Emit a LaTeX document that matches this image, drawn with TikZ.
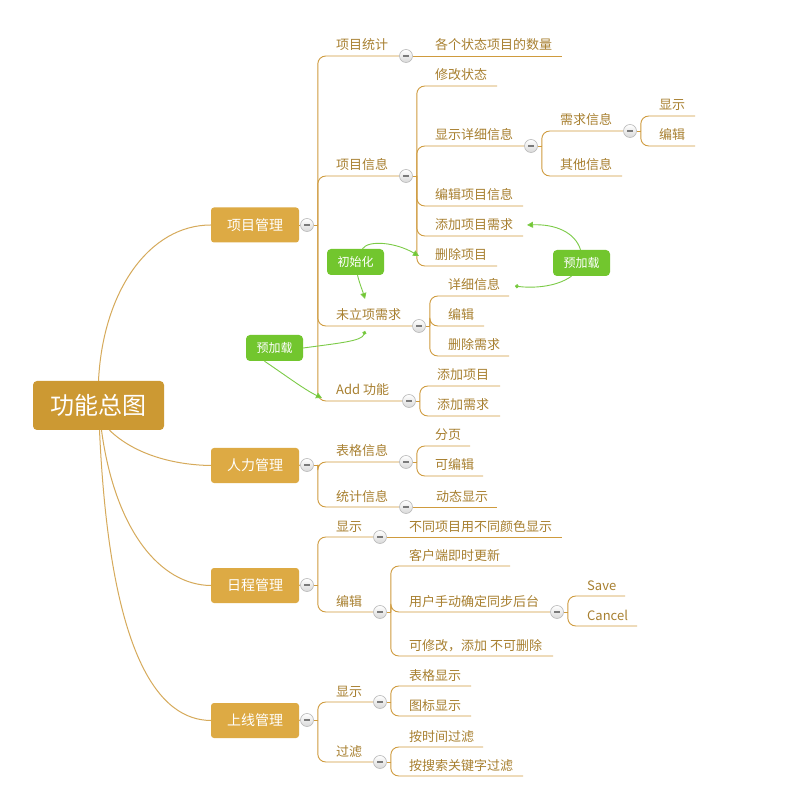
\documentclass[tikz,border=0pt]{standalone}
\usepackage{fontspec}
\newfontfamily\cjk{Noto Sans CJK SC}
\usetikzlibrary{arrows.meta,calc}
\pgfdeclarelayer{back}
\pgfdeclarelayer{bg}
\pgfsetlayers{back,bg,main}
\definecolor{rootfill}{HTML}{CC9933}
\definecolor{topicfill}{HTML}{DDAA44}
\definecolor{brclr}{HTML}{CF9B3E}
\definecolor{txtclr}{HTML}{A88030}
\definecolor{gfill}{HTML}{72C62E}
\definecolor{gline}{HTML}{7CCB47}
\definecolor{minusclr}{HTML}{7A7A7A}
\newcommand\mmstub[1]{\draw[br] (#1.east) -- ++(4,0);}
\newcommand\mmkid[3]{\draw[br,rounded corners=8pt] (#1.east) ++(#2,0) |- (#3);}
\tikzset{
  rootbox/.style={fill=rootfill, rounded corners=4pt, minimum width=131pt, minimum height=49pt, text=white, font=\cjk\fontsize{24}{24}\selectfont, inner sep=0pt},
  topicbox/.style={fill=topicfill, rounded corners=3pt, minimum width=88pt, minimum height=35pt, text=white, font=\cjk\fontsize{14}{14}\selectfont, inner sep=0pt},
  gbox/.style={fill=gfill, rounded corners=4pt, minimum width=57pt, minimum height=26pt, text=white, font=\cjk\fontsize{12}{12}\selectfont, inner sep=0pt},
  lbl/.style={anchor=base west, inner sep=0pt, text=txtclr, font=\cjk\fontsize{13}{13}\selectfont},
  col/.style={circle, minimum size=13pt, inner sep=0pt, draw=gray!55, line width=0.6pt, top color=white, bottom color=gray!30,
    path picture={\fill[minusclr] ([xshift=-3pt,yshift=-1.3pt]path picture bounding box.center) rectangle ([xshift=3pt,yshift=1.3pt]path picture bounding box.center);}},
  br/.style={draw=brclr, line width=0.9pt},
  rootln/.style={draw=brclr!85!white, line width=1pt},
  rel/.style={draw=gline, line width=0.9pt},
  tri/.style={-{Triangle[length=6pt,width=6pt,fill=gfill]}},
  dot/.style={-{Circle[length=4pt,fill=gfill]}}
}
\begin{document}
\begin{tikzpicture}[x=1pt,y=-1pt]
\begin{pgfonlayer}{back}
\useasboundingbox[fill=white] (0,0) rectangle (812,810);
\end{pgfonlayer}

% root and topics
\node[rootbox] (root) at (98.5,405.5) {功能总图};
\node[topicbox] (t1) at (255,225) {项目管理};
\node[topicbox] (t2) at (255,465.5) {人力管理};
\node[topicbox] (t3) at (255,585.5) {日程管理};
\node[topicbox] (t4) at (255,720.5) {上线管理};
\node[col] (c1) at (307,225) {};
\node[col] (c2) at (307,465) {};
\node[col] (c3) at (307,585) {};
\node[col] (c4) at (307,720) {};

% ---- 项目管理
\node[lbl] (a1) at (336,50) {项目统计};
\node[col] (ca1) at (406,56) {};
\node[lbl] (a11) at (435,50) {各个状态项目的数量};
\coordinate (a11e) at (562,56);
\node[lbl] (a2) at (336,170) {项目信息};
\node[col] (ca2) at (406,176) {};
\node[lbl] (a21) at (435,80) {修改状态};
\coordinate (a21e) at (497,86);
\node[lbl] (a22) at (435,140) {显示详细信息};
\node[col] (ca22) at (531,146) {};
\node[lbl] (a221) at (560,125) {需求信息};
\node[col] (ca221) at (630,131) {};
\node[lbl] (a2211) at (659,110) {显示};
\coordinate (a2211e) at (695,116);
\node[lbl] (a2212) at (659,140) {编辑};
\coordinate (a2212e) at (695,146);
\node[lbl] (a222) at (560,170) {其他信息};
\coordinate (a222e) at (622,176);
\node[lbl] (a23) at (435,200) {编辑项目信息};
\coordinate (a23e) at (523,206);
\node[lbl] (a24) at (435,230) {添加项目需求};
\coordinate (a24e) at (523,236);
\node[lbl] (a25) at (435,260) {删除项目};
\coordinate (a25e) at (497,266);
\node[lbl] (a3) at (336,320) {未立项需求};
\node[col] (ca3) at (419,326) {};
\node[lbl] (a31) at (448,290) {详细信息};
\coordinate (a31e) at (509,296);
\node[lbl] (a32) at (448,320) {编辑};
\coordinate (a32e) at (484,326);
\node[lbl] (a33) at (448,350) {删除需求};
\coordinate (a33e) at (509,356);
\node[lbl] (a4) at (336,395) {Add 功能};
\node[col] (ca4) at (409,401) {};
\node[lbl] (a41) at (437,380) {添加项目};
\coordinate (a41e) at (500,386);
\node[lbl] (a42) at (437,410) {添加需求};
\coordinate (a42e) at (500,416);

% ---- 人力管理
\node[lbl] (b1) at (336,456) {表格信息};
\node[col] (cb1) at (406,462) {};
\node[lbl] (b11) at (435,440) {分页};
\coordinate (b11e) at (470,446);
\node[lbl] (b12) at (435,470) {可编辑};
\coordinate (b12e) at (483,476);
\node[lbl] (b2) at (336,501) {统计信息};
\node[col] (cb2) at (406,507) {};
\node[lbl] (b21) at (436,501) {动态显示};
\coordinate (b21e) at (497,507);

% ---- 日程管理
\node[lbl] (d1) at (336,531) {显示};
\node[col] (cd1) at (380,537) {};
\node[lbl] (d11) at (409,531) {不同项目用不同颜色显示};
\coordinate (d11e) at (562,537);
\node[lbl] (d2) at (336,606) {编辑};
\node[col] (cd2) at (380,612) {};
\node[lbl] (d21) at (409,560) {客户端即时更新};
\coordinate (d21e) at (510,566);
\node[lbl] (d22) at (409,606) {用户手动确定同步后台};
\node[col] (cd22) at (557,612) {};
\node[lbl] (d221) at (587,590) {Save};
\coordinate (d221e) at (625,596);
\node[lbl] (d222) at (587,620) {Cancel};
\coordinate (d222e) at (637,626);
\node[lbl] (d23) at (409,650) {可修改，添加 不可删除};
\coordinate (d23e) at (553,656);

% ---- 上线管理
\node[lbl] (e1) at (336,696) {显示};
\node[col] (ce1) at (380,702) {};
\node[lbl] (e11) at (409,680) {表格显示};
\coordinate (e11e) at (471,686);
\node[lbl] (e12) at (409,710) {图标显示};
\coordinate (e12e) at (471,716);
\node[lbl] (e2) at (336,756) {过滤};
\node[col] (ce2) at (380,762) {};
\node[lbl] (e21) at (409,741) {按时间过滤};
\coordinate (e21e) at (483,747);
\node[lbl] (e22) at (409,770) {按搜索关键字过滤};
\coordinate (e22e) at (523,776);

% green boxes
\node[gbox] (g1) at (355.5,262) {初始化};
\node[gbox] (g2) at (581.5,263) {预加载};
\node[gbox] (g3) at (274.5,348) {预加载};
\coordinate (r1) at (419,256);
\coordinate (r2) at (365,299);
\coordinate (r3) at (527,225);
\coordinate (r4) at (515,286);
\coordinate (r5) at (365,331);
\coordinate (r6) at (322,398);

\begin{pgfonlayer}{bg}
% root connectors
\draw[rootln] (root.north) .. controls (103,290) and (150,225) .. (t1.west);
\draw[rootln] ([xshift=11pt]root.south) .. controls (135,455) and (175,465) .. (t2.west);
\draw[rootln] ([xshift=3pt]root.south) .. controls (115,530) and (160,585) .. (t3.west);
\draw[rootln] ([xshift=1pt]root.south) .. controls (110,660) and (160,720) .. (t4.west);
\draw[br] (t1.east) -- (c1.west);
\draw[br] (t2.east) -- (c2.west);
\draw[br] (t3.east) -- (c3.west);
\draw[br] (t4.east) -- (c4.west);
% 项目管理
\mmstub{c1}
\mmkid{c1}{4}{ca1.west} \mmkid{c1}{4}{ca2.west} \mmkid{c1}{4}{ca3.west} \mmkid{c1}{4}{ca4.west}
\draw[br] (ca1.east) -- (a11e);
\mmstub{ca2}
\mmkid{ca2}{4}{a21e} \mmkid{ca2}{4}{ca22.west} \mmkid{ca2}{4}{a23e} \mmkid{ca2}{4}{a24e} \mmkid{ca2}{4}{a25e}
\mmstub{ca22}
\mmkid{ca22}{4}{ca221.west} \mmkid{ca22}{4}{a222e}
\mmstub{ca221}
\mmkid{ca221}{4}{a2211e} \mmkid{ca221}{4}{a2212e}
\mmstub{ca3}
\mmkid{ca3}{4}{a31e} \mmkid{ca3}{4}{a32e} \mmkid{ca3}{4}{a33e}
\mmstub{ca4}
\mmkid{ca4}{4}{a41e} \mmkid{ca4}{4}{a42e}
% 人力管理
\mmstub{c2}
\mmkid{c2}{4}{cb1.west} \mmkid{c2}{4}{cb2.west}
\mmstub{cb1}
\mmkid{cb1}{4}{b11e} \mmkid{cb1}{4}{b12e}
\draw[br] (cb2.east) -- (b21e);
% 日程管理
\mmstub{c3}
\mmkid{c3}{4}{cd1.west} \mmkid{c3}{4}{cd2.west}
\draw[br] (cd1.east) -- (d11e);
\mmstub{cd2}
\mmkid{cd2}{4}{d21e} \mmkid{cd2}{4}{cd22.west} \mmkid{cd2}{4}{d23e}
\mmstub{cd22}
\mmkid{cd22}{4}{d221e} \mmkid{cd22}{4}{d222e}
% 上线管理
\mmstub{c4}
\mmkid{c4}{4}{ce1.west} \mmkid{c4}{4}{ce2.west}
\mmstub{ce1}
\mmkid{ce1}{4}{e11e} \mmkid{ce1}{4}{e12e}
\mmstub{ce2}
\mmkid{ce2}{4}{e21e} \mmkid{ce2}{4}{e22e}
\end{pgfonlayer}

% relationships
\draw[rel,tri] ([xshift=7pt]g1.north) .. controls (368,240) and (395,242) .. (r1);
\draw[rel,tri] ([xshift=2pt]g1.south) .. controls (360,285) and (363,292) .. (r2);
\draw[rel,tri] ([xshift=-1pt]g2.north) .. controls (575,232) and (555,224) .. (r3);
\draw[rel,dot] ([xshift=-10pt]g2.south) .. controls (555,288) and (530,288) .. (r4);
\draw[rel,dot] (g3.east) .. controls (340,343) and (362,341) .. (r5);
\draw[rel,tri] ([xshift=-10pt]g3.south) .. controls (285,375) and (305,390) .. (r6);
\end{tikzpicture}
\end{document}
